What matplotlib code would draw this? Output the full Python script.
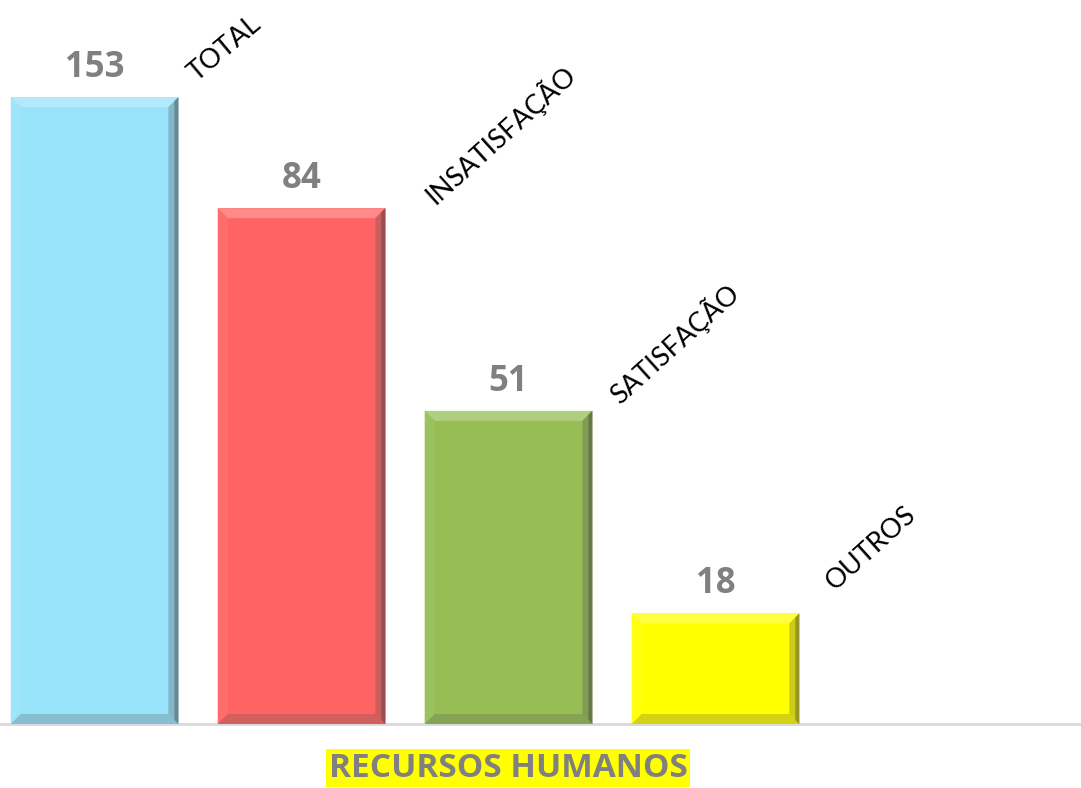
import matplotlib
matplotlib.use("Agg")
import numpy as np
import matplotlib.pyplot as plt
from matplotlib.patches import Polygon
from matplotlib.transforms import IdentityTransform
from matplotlib.colors import to_rgb

categories = ["TOTAL", "INSATISFAÇÃO", "SATISFAÇÃO", "OUTROS"]
values = [153, 84, 51, 18]
colors = ["#99E3FA", "#FF6363", "#96BE55", "#FFFF00"]
title = "RECURSOS HUMANOS"

# pixel offsets of the rotated names from each bar's top-right corner
name_offsets = [(18, 15), (50, 3), (27, 6), (35, 22)]
name_rot = [40, 42, 42, 42]


def mix(c, other, t):
    c = np.array(to_rgb(c))
    o = np.array(to_rgb(other))
    return tuple(c * (1 - t) + o * t)


fig = plt.figure(figsize=(10.81, 7.88), dpi=100)
ax = fig.add_axes([0, 64 / 788, 1, 724 / 788])
ax2 = ax.twinx()

x = np.arange(len(values))
width = 0.81

# total sits on its own scale (secondary axis), the rest on the main one
bars = list(ax2.bar(x[:1], values[:1], width, color=colors[0], zorder=2))
bars += list(ax.bar(x[1:], values[1:], width, color=colors[1:], zorder=2))

ax.set_xlim(-0.457, 4.766)
ax.set_ylim(0, 117.9)
ax2.set_ylim(0, 176.7)

for a in (ax, ax2):
    for s in ("top", "left", "right"):
        a.spines[s].set_visible(False)
    a.set_xticks([])
    a.set_yticks([])
ax.spines["bottom"].set_color("#D9D9D9")
ax.spines["bottom"].set_linewidth(2)
ax2.spines["bottom"].set_visible(False)

# value labels
for i, v in enumerate(values):
    a = ax2 if i == 0 else ax
    a.annotate(str(v), (x[i], v), xytext=(0, 14.4), textcoords="offset points",
               ha="center", va="baseline", fontsize=25, fontweight="bold",
               color="#808080", family="Open Sans")

fig.canvas.draw()
r = fig.canvas.get_renderer()
for i, bar in enumerate(bars):
    bb = bar.get_window_extent(r)
    x0, y0, x1, y1 = bb.x0, bb.y0, bb.x1, bb.y1
    b = 10
    c = colors[i]
    polys = [
        ([(x0, y1), (x1, y1), (x1 - b, y1 - b), (x0 + b, y1 - b)], mix(c, "white", 0.25)),
        ([(x0, y0), (x0, y1), (x0 + b, y1 - b), (x0 + b, y0 + b)], mix(c, "white", 0.06)),
        ([(x0, y0), (x1, y0), (x1 - b, y0 + b), (x0 + b, y0 + b)], mix(c, "#505050", 0.25)),
        ([(x1, y1), (x1, y0), (x1 - b, y0 + b), (x1 - b, y1 - b)], mix(c, "#505050", 0.3)),
    ]
    for pts, col in polys:
        fig.add_artist(Polygon(pts, closed=True, facecolor=col, edgecolor="none",
                               transform=IdentityTransform(), zorder=1))
    # thin darker rim on the right edge
    fig.add_artist(Polygon([(x1 - 4, y1 - 4), (x1, y1), (x1, y0), (x1 - 4, y0 + 4)],
                           closed=True, facecolor=mix(c, "#404040", 0.55),
                           edgecolor="none", transform=IdentityTransform(), zorder=1))
    dx, dy = name_offsets[i]
    fig.text((x1 + dx) / fig.bbox.width, (y1 + dy) / fig.bbox.height, categories[i],
             rotation=name_rot[i], rotation_mode="anchor", ha="left", va="baseline",
             fontsize=19.5, family="Lato", color="black")

fig.text(508 / 1081, 0.025, title, ha="center", va="center", fontsize=24,
         fontweight="bold", color="#808080", family="Open Sans",
         bbox=dict(boxstyle="square,pad=0.08", facecolor="#FFFF00", edgecolor="none"))

fig.savefig("out.png", dpi=100)
